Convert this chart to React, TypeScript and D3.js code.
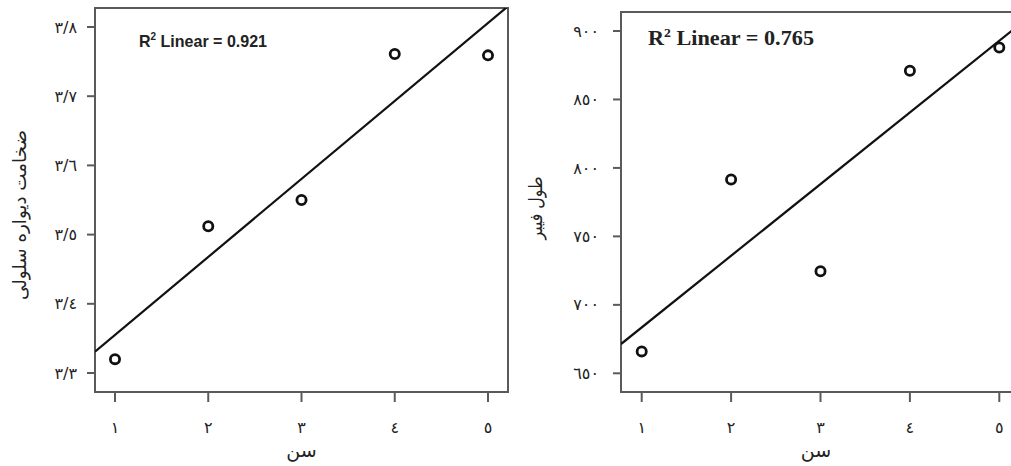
import React from 'react';
import * as d3 from 'd3';

const ages = [1, 2, 3, 4, 5];
const ageLabels = ['١', '٢', '٣', '٤', '٥'];

const wallThickness = [3.32, 3.512, 3.55, 3.761, 3.759];
const wallTicks = [3.3, 3.4, 3.5, 3.6, 3.7, 3.8];
const wallTickLabels = ['٣/٣', '٣/٤', '٣/٥', '٣/٦', '٣/٧', '٣/٨'];

const fiberLength = [666, 791.5, 724.5, 871, 888];
const fiberTicks = [650, 700, 750, 800, 850, 900];
const fiberTickLabels = ['٦٥٠', '٧٠٠', '٧٥٠', '٨٠٠', '٨٥٠', '٩٠٠'];

const W = 1011;
const H = 466;
const arabicFont = "'DejaVu Sans', 'Noto Sans', sans-serif";

const fit = (xs: number[], ys: number[]) => {
  const mx = d3.mean(xs)!;
  const my = d3.mean(ys)!;
  const slope = d3.sum(xs, (x, i) => (x - mx) * (ys[i] - my)) / d3.sum(xs, x => (x - mx) ** 2);
  return (x: number) => my + slope * (x - mx);
};

type PanelProps = {
  id: string;
  values: number[];
  yTicks: number[];
  yTickLabels: string[];
  xRange: [number, number];
  yRange: [number, number];
  frame: { l: number; r: number; t: number; b: number };
  labelGap: number;
  yTitle: string;
  yTitleX: number;
  yTitleY: number;
  yTitleLength: number;
  r2: string;
  r2X: number;
  r2Y: number;
  r2Font: string;
  r2Size: number;
  r2Length: number;
};

const Panel = (p: PanelProps) => {
  const x = d3.scaleLinear().domain([1, 5]).range(p.xRange);
  const y = d3.scaleLinear().domain([p.yTicks[0], p.yTicks[p.yTicks.length - 1]]).range(p.yRange);
  const { l, r, t, b } = p.frame;
  const line = fit(ages, p.values);
  const x0 = x.invert(l);
  const x1 = x.invert(r);
  const frameColor = '#5a5a5a';

  return (
    <g>
      <defs>
        <clipPath id={`clip-${p.id}`}>
          <rect x={l} y={t} width={r - l} height={b - t} />
        </clipPath>
      </defs>
      <rect x={l} y={t} width={r - l} height={b - t} fill="white" stroke={frameColor} strokeWidth={2} />

      {/* y ticks */}
      {p.yTicks.map((v, i) => (
        <g key={v}>
          <line x1={l - 8} x2={l} y1={y(v)} y2={y(v)} stroke={frameColor} strokeWidth={2} />
          <text x={l - p.labelGap} y={y(v)} dy="0.35em" textAnchor="end" fontFamily={arabicFont} fontSize={16} fill="#222">
            {p.yTickLabels[i]}
          </text>
        </g>
      ))}

      {/* x ticks */}
      {ages.map((v, i) => (
        <g key={v}>
          <line x1={x(v)} x2={x(v)} y1={b} y2={b + 10} stroke={frameColor} strokeWidth={2} />
          <text x={x(v)} y={427} dy="0.35em" textAnchor="middle" fontFamily={arabicFont} fontSize={16} fill="#222">
            {ageLabels[i]}
          </text>
        </g>
      ))}

      <line
        clipPath={`url(#clip-${p.id})`}
        x1={l} y1={y(line(x0))} x2={r} y2={y(line(x1))}
        stroke="#111" strokeWidth={2.2}
      />

      {ages.map((a, i) => (
        <circle key={a} cx={x(a)} cy={y(p.values[i])} r={4.6} fill="white" stroke="#111" strokeWidth={2.8} />
      ))}

      <text x={p.r2X} y={p.r2Y} fontFamily={p.r2Font} fontWeight="bold" fontSize={p.r2Size} fill="#222"
        textLength={p.r2Length} lengthAdjust="spacingAndGlyphs">
        R<tspan dy={-p.r2Size * 0.4} fontSize={p.r2Size * 0.62}>2</tspan>
        <tspan dy={p.r2Size * 0.4}>{` Linear = ${p.r2}`}</tspan>
      </text>

      <text x={(l + Math.min(r, W)) / 2} y={450} dy="0.35em" textAnchor="middle" fontFamily={arabicFont} fontSize={19} fill="#222">
        سن
      </text>
      <text
        transform={`translate(${p.yTitleX},${p.yTitleY}) rotate(-90)`}
        textAnchor="middle" dy="0.35em" fontFamily={arabicFont} fontSize={18} fill="#222"
        textLength={p.yTitleLength} lengthAdjust="spacingAndGlyphs"
      >
        {p.yTitle}
      </text>
    </g>
  );
};

export default function App() {
  return (
    <svg width={W} height={H} style={{ position: 'absolute', left: 0, top: 0, background: 'white' }}>
      <Panel
        id="wall"
        values={wallThickness}
        yTicks={wallTicks}
        yTickLabels={wallTickLabels}
        xRange={[115, 488]}
        yRange={[373, 27]}
        frame={{ l: 95, r: 508, t: 8, b: 392 }}
        labelGap={18}
        yTitle="ضخامت دیواره سلولی"
        yTitleX={20}
        yTitleY={215}
        yTitleLength={170}
        r2="0.921"
        r2X={139}
        r2Y={47}
        r2Font="'Liberation Sans Narrow', 'Liberation Sans', Arial, sans-serif"
        r2Size={17}
        r2Length={128}
      />
      <Panel
        id="fiber"
        values={fiberLength}
        yTicks={fiberTicks}
        yTickLabels={fiberTickLabels}
        xRange={[641.7, 999.3]}
        yRange={[373.3, 31]}
        frame={{ l: 621, r: 1016, t: 12, b: 392 }}
        labelGap={22}
        yTitle="طول فیبر"
        yTitleX={536}
        yTitleY={208}
        yTitleLength={63}
        r2="0.765"
        r2X={648}
        r2Y={45}
        r2Font="'Liberation Serif', 'Times New Roman', serif"
        r2Size={20}
        r2Length={166}
      />
    </svg>
  );
}
